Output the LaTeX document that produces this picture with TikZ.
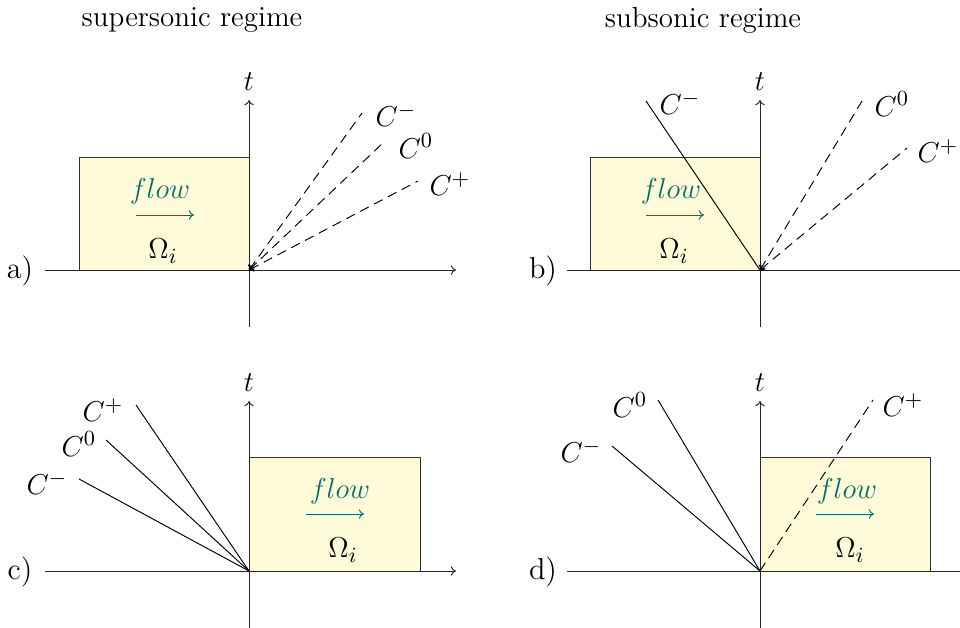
\documentclass[tikz,border=0pt]{standalone}
\usetikzlibrary{arrows.meta}
\definecolor{flowc}{RGB}{0,112,102}
\definecolor{domfill}{RGB}{255,250,215}
\begin{document}
\begin{tikzpicture}[x=0.4167pt,y=-0.4167pt,
  axis/.style={draw=black!85,line width=0.4pt,-{To[length=2.2pt,width=4pt]}},
  dombox/.style={draw=black!80,fill=domfill,line width=0.4pt},
  charline/.style={draw=black,line width=0.4pt},
  chardash/.style={charline,dash pattern=on 4pt off 2.5pt},
  tipin/.style={{To[length=1.8pt,width=3.2pt]}-},
  flowtext/.style={text=flowc},
  flowarrow/.style={draw=flowc,line width=0.4pt,-{To[length=2.2pt,width=4pt]}},
  ttl/.style={inner sep=0pt,font=\fontsize{12.1}{14}\selectfont},
  lab/.style={inner sep=0pt,font=\fontsize{12.6}{15}\selectfont}]
\clip (0,0) rectangle (960,628);
% titles
\node[ttl] (t1) at (192,20) {supersonic regime};
\node[ttl] (t2) at (703,20) {subsonic regime};

% ---------- panel a ----------
\coordinate (Oa) at (249,270);
\coordinate (axL) at (45,270); \coordinate (axR) at (456,270);
\coordinate (ayB) at (249,327); \coordinate (ayT) at (249,100);
\path[dombox] (79,157) rectangle (249,270);
\draw[axis] (axL) -- (axR);
\draw[axis] (ayB) -- (ayT);
\node[lab] (ta) at (249,82) {$t$};
\node[lab] (la) at (20,271) {a)};
\node[lab,flowtext] (fa) at (160,191) {$flow$};
\coordinate (fa1) at (136,215); \coordinate (fa2) at (194,215);
\draw[flowarrow] (fa1) -- (fa2);
\node[lab] (wa) at (163,251) {$\Omega_i$};
\coordinate (am) at (362,113); \coordinate (a0) at (385,141); \coordinate (ap) at (418,181);
\draw[chardash,tipin] (Oa) -- (am);
\draw[chardash,tipin] (Oa) -- (a0);
\draw[chardash,tipin] (Oa) -- (ap);
\node[lab] (aml) at (396,115) {$C^-$};
\node[lab] (a0l) at (416,146) {$C^0$};
\node[lab] (apl) at (450,184) {$C^+$};

% ---------- panel b ----------
\coordinate (Ob) at (760,270);
\coordinate (bxL) at (567,270); \coordinate (bxR) at (966,270);
\coordinate (byB) at (760,327); \coordinate (byT) at (760,100);
\path[dombox] (590,157) rectangle (760,270);
\draw[axis] (bxL) -- (bxR);
\draw[axis] (byB) -- (byT);
\node[lab] (tb) at (760,82) {$t$};
\node[lab] (lb) at (543,271) {b)};
\node[lab,flowtext] (fb) at (671,191) {$flow$};
\coordinate (fb1) at (646,215); \coordinate (fb2) at (704,215);
\draw[flowarrow] (fb1) -- (fb2);
\node[lab] (wb) at (674,251) {$\Omega_i$};
\coordinate (bm) at (646,101); \coordinate (b0) at (862,101); \coordinate (bp) at (907,148);
\draw[charline] (Ob) -- (bm);
\draw[chardash,tipin] (Ob) -- (b0);
\draw[chardash,tipin] (Ob) -- (bp);
\node[lab] (bml) at (680,103) {$C^-$};
\node[lab] (b0l) at (892,104) {$C^0$};
\node[lab] (bpl) at (938,151) {$C^+$};

% ---------- panel c ----------
\coordinate (Oc) at (249,571);
\coordinate (cxL) at (45,571); \coordinate (cxR) at (456,571);
\coordinate (cyB) at (249,628); \coordinate (cyT) at (249,401);
\path[dombox] (249,457) rectangle (420,571);
\draw[axis] (cxL) -- (cxR);
\draw[axis] (cyB) -- (cyT);
\node[lab] (tc) at (249,383) {$t$};
\node[lab] (lc) at (20,572) {c)};
\node[lab,flowtext] (fc) at (340,491) {$flow$};
\coordinate (fc1) at (306,514); \coordinate (fc2) at (364,514);
\draw[flowarrow] (fc1) -- (fc2);
\node[lab] (wc) at (343,550) {$\Omega_i$};
\coordinate (cp) at (136,405); \coordinate (c0) at (106,440); \coordinate (cm) at (79,479);
\draw[charline] (Oc) -- (cp);
\draw[charline] (Oc) -- (c0);
\draw[charline] (Oc) -- (cm);
\node[lab] (cpl) at (103,410) {$C^+$};
\node[lab] (c0l) at (79,444) {$C^0$};
\node[lab] (cml) at (47,483) {$C^-$};

% ---------- panel d ----------
\coordinate (Od) at (760,571);
\coordinate (dxL) at (567,571); \coordinate (dxR) at (966,571);
\coordinate (dyB) at (760,628); \coordinate (dyT) at (760,401);
\path[dombox] (760,457) rectangle (930,571);
\draw[axis] (dxL) -- (dxR);
\draw[axis] (dyB) -- (dyT);
\node[lab] (td) at (760,383) {$t$};
\node[lab] (ld) at (543,572) {d)};
\node[lab,flowtext] (fd) at (847,491) {$flow$};
\coordinate (fd1) at (816,514); \coordinate (fd2) at (874,514);
\draw[flowarrow] (fd1) -- (fd2);
\node[lab] (wd) at (850,550) {$\Omega_i$};
\coordinate (d0) at (658,400); \coordinate (dm) at (612,446); \coordinate (dp) at (873,400);
\draw[charline] (Od) -- (d0);
\draw[charline] (Od) -- (dm);
\draw[chardash] (Od) -- (dp);
\node[lab] (d0l) at (630,405) {$C^0$};
\node[lab] (dml) at (581,451) {$C^-$};
\node[lab] (dpl) at (903,405) {$C^+$};
\end{tikzpicture}
\end{document}
